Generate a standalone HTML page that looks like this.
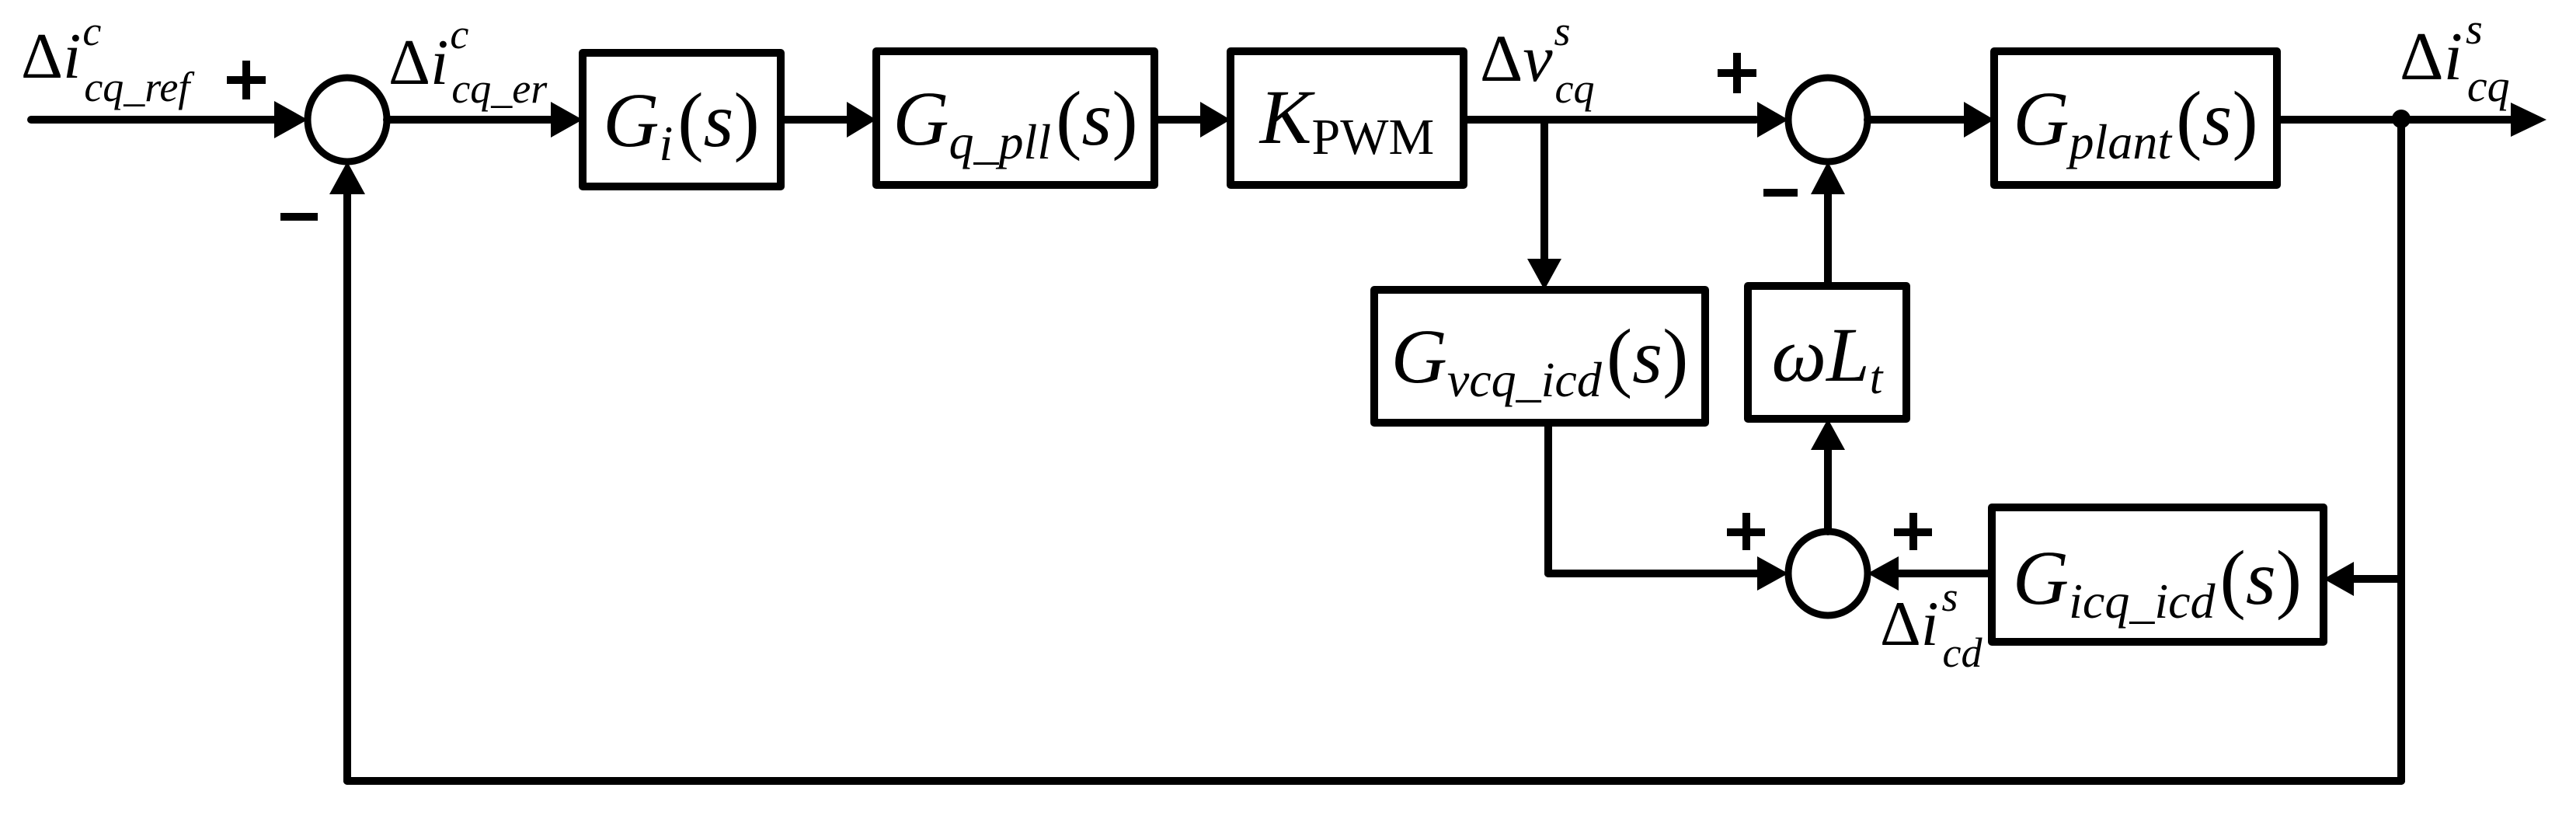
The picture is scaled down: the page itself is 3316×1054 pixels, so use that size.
<!DOCTYPE html>
<html><head><meta charset="utf-8"><style>
html,body{margin:0;padding:0;background:#fff;}
svg{display:block;}
text,tspan{font-family:"Liberation Serif","Times New Roman",Times,serif;fill:#000;}
.it{font-style:italic;}
</style></head><body>
<svg width="3316" height="1054" viewBox="0 0 3316 1054" xmlns="http://www.w3.org/2000/svg" font-family="Liberation Serif, Times New Roman, serif">
<g stroke="#000" stroke-width="10" fill="none" stroke-linejoin="round" stroke-linecap="round">
 <rect x="750" y="68" width="255" height="172"/>
 <rect x="1128" y="66" width="358" height="172"/>
 <rect x="1584" y="66" width="300" height="172"/>
 <rect x="2567" y="66" width="364" height="172"/>
 <rect x="1769" y="373" width="426" height="171"/>
 <rect x="2250" y="368" width="204" height="171"/>
 <rect x="2564" y="653" width="427" height="173"/>
 <ellipse cx="447" cy="154" rx="51" ry="54" stroke-width="9"/>
 <ellipse cx="2353" cy="154" rx="51" ry="54" stroke-width="9"/>
 <ellipse cx="2353" cy="738" rx="51" ry="54" stroke-width="9"/>
 <line x1="40" y1="154" x2="370" y2="154"/>
 <line x1="498" y1="154" x2="710" y2="154"/>
 <line x1="1005" y1="154" x2="1090" y2="154"/>
 <line x1="1486" y1="154" x2="1545" y2="154"/>
 <line x1="1884" y1="154" x2="2260" y2="154"/>
 <line x1="2404" y1="154" x2="2530" y2="154"/>
 <line x1="2931" y1="154" x2="3235" y2="154"/>
 <line x1="1988" y1="154" x2="1988" y2="335"/>
 <line x1="2353" y1="368" x2="2353" y2="250"/>
 <line x1="2353" y1="684" x2="2353" y2="578"/>
 <line x1="1993" y1="544" x2="1993" y2="738" />
 <line x1="1993" y1="738" x2="2265" y2="738"/>
 <line x1="2564" y1="738" x2="2445" y2="738"/>
 <line x1="3091" y1="154" x2="3091" y2="1005"/>
 <line x1="3091" y1="745" x2="3030" y2="745"/>
 <line x1="3091" y1="1005" x2="447" y2="1005"/>
 <line x1="447" y1="1005" x2="447" y2="245"/>
</g>
<g fill="#000">
 <polygon points="396,154 353,130 353,178"/>
 <polygon points="750,154 709,131 709,177"/>
 <polygon points="1128,154 1090,131 1090,177"/>
 <polygon points="1584,154 1545,131 1545,177"/>
 <polygon points="2302,154 2262,131 2262,177"/>
 <polygon points="2567,154 2528,131 2528,177"/>
 <polygon points="3278,154 3232,132 3232,176"/>
 <polygon points="447,208 424,250 470,250"/>
 <polygon points="1988,373 1966,333 2010,333"/>
 <polygon points="2353,208 2331,250 2375,250"/>
 <polygon points="2353,539 2331,579 2375,579"/>
 <polygon points="2302,738 2262,716 2262,760"/>
 <polygon points="2404,738 2444,716 2444,760"/>
 <polygon points="2991,745 3030,723 3030,767"/>
 <circle cx="3091" cy="153" r="12"/>
 <rect x="292" y="98" width="50" height="10"/><rect x="312" y="78" width="10" height="50"/>
 <rect x="361" y="274" width="48" height="10"/>
 <rect x="2211" y="89" width="50" height="10"/><rect x="2231" y="68" width="10" height="52"/>
 <rect x="2270" y="243" width="44" height="10"/>
 <rect x="2223" y="680" width="49" height="10"/><rect x="2243" y="660" width="10" height="48"/>
 <rect x="2438" y="680" width="49" height="10"/><rect x="2458" y="660" width="10" height="48"/>
</g>
<text x="27" y="100" font-size="84">Δ<tspan class="it" font-style="italic">i</tspan><tspan font-style="italic" font-size="54" dx="2" dy="-42">c</tspan><tspan font-style="italic" font-size="54" dx="-22" dy="72">cq_ref</tspan></text>
<text x="500" y="108" font-size="84">Δ<tspan font-style="italic">i</tspan><tspan font-style="italic" font-size="54" dx="2" dy="-46">c</tspan><tspan font-style="italic" font-size="54" dx="-22" dy="70">cq_er</tspan></text>
<text x="1905" y="104" font-size="86">Δ<tspan font-style="italic">v</tspan><tspan font-style="italic" font-size="54" dx="2" dy="-46">s</tspan><tspan font-style="italic" font-size="54" dx="-20" dy="74">cq</tspan></text>
<text x="3089" y="102" font-size="88">Δ<tspan font-style="italic">i</tspan><tspan font-style="italic" font-size="56" dx="4" dy="-46">s</tspan><tspan font-style="italic" font-size="58" dx="-20" dy="74">cq</tspan></text>
<text x="2420" y="830" font-size="82">Δ<tspan font-style="italic">i</tspan><tspan font-style="italic" font-size="54" dx="4" dy="-44">s</tspan><tspan font-style="italic" font-size="54" dx="-20" dy="72">cd</tspan></text>
<text x="877" y="188" font-size="100" text-anchor="middle"><tspan font-style="italic">G</tspan><tspan font-style="italic" font-size="64" dy="18">i</tspan><tspan dy="-18" dx="6">(</tspan><tspan font-style="italic">s</tspan>)</text>
<text x="1307" y="186" font-size="100" text-anchor="middle"><tspan font-style="italic">G</tspan><tspan font-style="italic" font-size="64" dy="18">q_pll</tspan><tspan dy="-18" dx="6">(</tspan><tspan font-style="italic">s</tspan>)</text>
<text x="1734" y="184" font-size="100" text-anchor="middle"><tspan font-style="italic">K</tspan><tspan font-size="66" dy="14">PWM</tspan></text>
<text x="2749" y="186" font-size="100" text-anchor="middle"><tspan font-style="italic">G</tspan><tspan font-style="italic" font-size="64" dy="18">plant</tspan><tspan dy="-18" dx="6">(</tspan><tspan font-style="italic">s</tspan>)</text>
<text x="1982" y="492" font-size="100" text-anchor="middle"><tspan font-style="italic">G</tspan><tspan font-style="italic" font-size="64" dy="18">vcq_icd</tspan><tspan dy="-18" dx="6">(</tspan><tspan font-style="italic">s</tspan>)</text>
<text x="2352" y="490" font-size="100" text-anchor="middle"><tspan font-style="italic">ωL</tspan><tspan font-style="italic" font-size="60" dy="16">t</tspan></text>
<text x="2777" y="777" font-size="100" text-anchor="middle"><tspan font-style="italic">G</tspan><tspan font-style="italic" font-size="64" dy="18">icq_icd</tspan><tspan dy="-18" dx="6">(</tspan><tspan font-style="italic">s</tspan>)</text>
</svg>
</body></html>
